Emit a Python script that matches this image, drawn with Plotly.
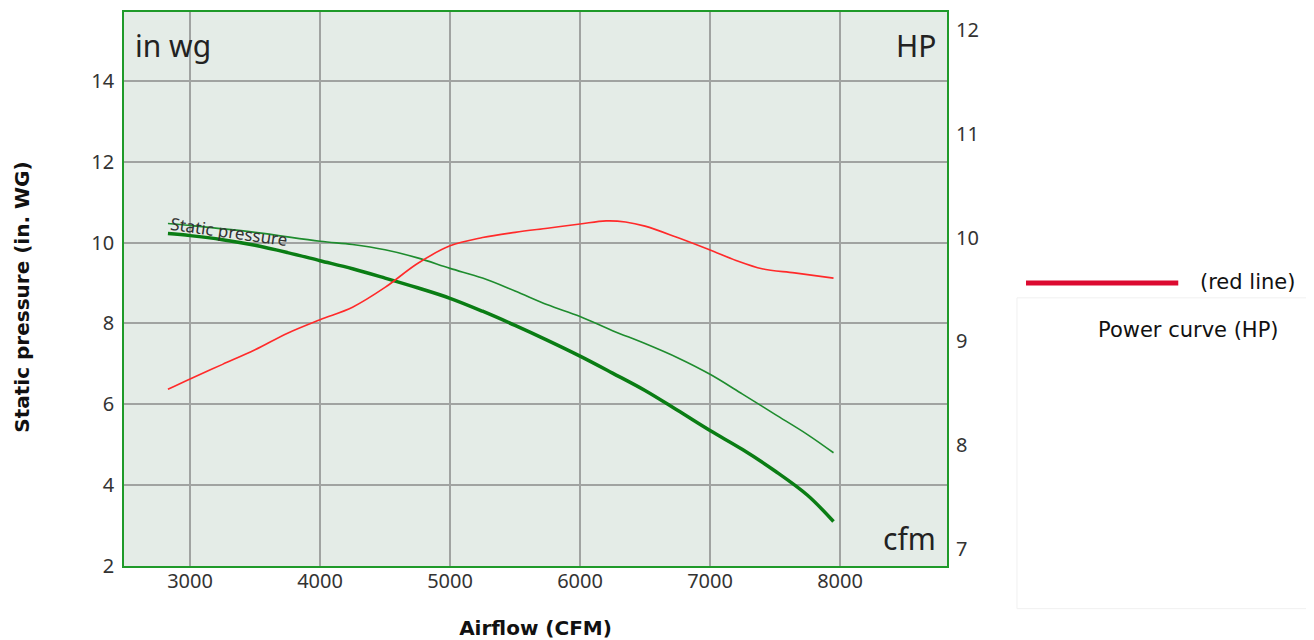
import plotly.graph_objects as go

# ---------------- data ----------------
airflow_main = [2830, 3000, 3250, 3500, 3750, 4000, 4250, 4500, 4750, 5000, 5250, 5500,
                5750, 6000, 6250, 6500, 6750, 7000, 7250, 7500, 7750, 7950]
static_main = [10.22, 10.17, 10.07, 9.93, 9.75, 9.55, 9.35, 9.12, 8.88, 8.62, 8.30, 7.95,
               7.58, 7.19, 6.77, 6.34, 5.85, 5.35, 4.88, 4.35, 3.75, 3.10]

airflow_thin = [2830, 3000, 3500, 4000, 4250, 4500, 4750, 5000, 5250, 5500, 5750, 6000,
                6250, 6500, 6750, 7000, 7250, 7500, 7750, 7950]
static_thin = [10.47, 10.42, 10.25, 10.03, 9.95, 9.82, 9.62, 9.36, 9.12, 8.80, 8.46, 8.17,
               7.82, 7.50, 7.15, 6.74, 6.25, 5.75, 5.25, 4.80]

airflow_power = [2830, 3000, 3250, 3500, 3750, 4000, 4250, 4500, 4750, 5000, 5250, 5500,
                 5750, 6000, 6200, 6350, 6500, 6750, 7000, 7200, 7400, 7650, 7950]
power_hp = [8.54, 8.64, 8.78, 8.92, 9.08, 9.21, 9.33, 9.52, 9.75, 9.92, 10.00, 10.05,
            10.09, 10.13, 10.16, 10.15, 10.11, 10.00, 9.88, 9.78, 9.70, 9.66, 9.61]

x_ticks = [3000, 4000, 5000, 6000, 7000, 8000]
y_ticks = [2, 4, 6, 8, 10, 12, 14]
hp_ticks = [7, 8, 9, 10, 11, 12]

# ---------------- figure ----------------
fig = go.Figure()
fig.add_trace(go.Scatter(x=airflow_thin, y=static_thin, mode="lines",
                         line=dict(color="#1e8c2e", width=1.6, shape="spline"),
                         showlegend=False, hoverinfo="skip"))
fig.add_trace(go.Scatter(x=airflow_main, y=static_main, mode="lines",
                         line=dict(color="#0a7d14", width=3.5, shape="spline"),
                         showlegend=False, name="Static pressure"))
fig.add_trace(go.Scatter(x=airflow_power, y=power_hp, mode="lines", yaxis="y2",
                         line=dict(color="#ff2a2a", width=1.6, shape="spline"),
                         showlegend=False, name="Power curve (HP)"))

tickfont = dict(family="Noto Sans", size=20, color="#333333")
title_font = dict(family="DejaVu Sans", size=20, color="#111")

fig.update_layout(
    width=1314, height=640,
    margin=dict(l=116, r=375, t=2, b=82),
    paper_bgcolor="white",
    plot_bgcolor="#e4ece7",
    font=dict(family="Noto Sans", color="#222"),
    xaxis=dict(range=[2492, 8823], tickvals=x_ticks, showgrid=True,
               gridcolor="#a0a3a1", gridwidth=1.5, zeroline=False,
               showline=True, linecolor="#1f9a2a", linewidth=2.2, mirror=True,
               ticks="", tickfont=tickfont, ticklabelstandoff=-4,
               title=dict(text="<b>Airflow (CFM)</b>", font=title_font, standoff=28)),
    yaxis=dict(range=[2, 15.7], tickvals=y_ticks, showgrid=True,
               gridcolor="#a0a3a1", gridwidth=1.5, zeroline=False,
               showline=True, linecolor="#1f9a2a", linewidth=1.5, mirror=True,
               ticks="", tickfont=tickfont, ticklabelstandoff=4),
    yaxis2=dict(range=[6.84, 12.17], tickvals=hp_ticks, overlaying="y", side="right",
                showgrid=False, zeroline=False, showline=False, ticks="",
                tickfont=tickfont, ticklabelstandoff=8),
)

# axis title (left)
fig.add_annotation(text="<b>Static pressure (in. WG)</b>", xref="paper", yref="paper",
                   x=-0.124, y=0.486, textangle=-90, showarrow=False,
                   xanchor="center", yanchor="middle", font=title_font)

# unit labels in plot corners
unit_font = dict(family="Noto Sans", size=30, color="#222")
fig.add_annotation(text="in wg", xref="paper", yref="paper", x=0.011, y=0.94,
                   xanchor="left", yanchor="middle", showarrow=False, font=unit_font)
fig.add_annotation(text="HP", xref="paper", yref="paper", x=0.989, y=0.94,
                   xanchor="right", yanchor="middle", showarrow=False, font=unit_font)
fig.add_annotation(text="cfm", xref="paper", yref="paper", x=0.989, y=0.05,
                   xanchor="right", yanchor="middle", showarrow=False, font=unit_font)

# curve label
fig.add_annotation(text="Static pressure", x=3300, y=10.27, xref="x", yref="y",
                   textangle=8, showarrow=False,
                   font=dict(family="Noto Sans", size=17, color="#333"))

# custom legend on the right
fig.add_shape(type="rect", xref="paper", yref="paper", x0=1.085, x1=1.46, y0=-0.077, y1=0.484,
              line=dict(color="#f0f0f0", width=1), fillcolor="white", layer="below")
fig.add_shape(type="line", xref="paper", yref="paper", x0=1.096, x1=1.281, y0=0.511, y1=0.511,
              line=dict(color="#dc0a30", width=5))
fig.add_annotation(text="(red line)", xref="paper", yref="paper", x=1.305, y=0.513,
                   xanchor="left", yanchor="middle", showarrow=False,
                   font=dict(family="DejaVu Sans", size=21, color="#111"))
fig.add_annotation(text="Power curve (HP)", xref="paper", yref="paper", x=1.293, y=0.426,
                   xanchor="center", yanchor="middle", showarrow=False,
                   font=dict(family="DejaVu Sans", size=21, color="#111"))

fig.write_html("out.html")
